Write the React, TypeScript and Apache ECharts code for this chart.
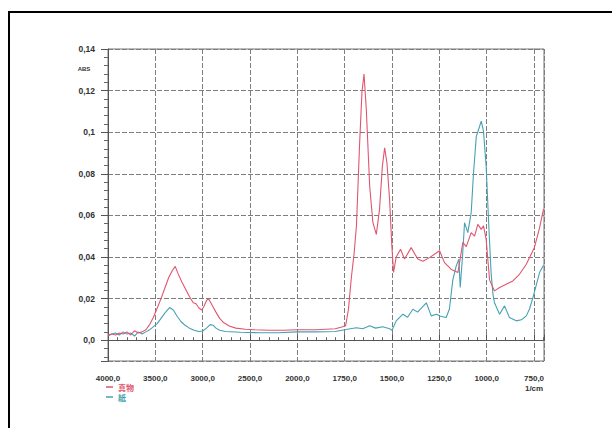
import React, { useEffect, useRef } from "react";
import * as echarts from "echarts";

// Wavenumber tick labels (cm-1), one per major gridline; the scale doubles below 2000.
const xTickLabels = ["4000,0", "3500,0", "3000,0", "2500,0", "2000,0", "1750,0", "1500,0", "1250,0", "1000,0", "750,0"];

// 真物 spectrum
const sampleWavenumbers = [
  4000, 3960, 3920, 3880, 3840, 3800, 3760, 3720, 3680, 3640, 3600, 3560, 3520, 3480, 3440, 3400, 3360, 3320,
  3290, 3260, 3220, 3180, 3140, 3100, 3070, 3040, 3010, 2990, 2960, 2940, 2920, 2890, 2860, 2820, 2780, 2720,
  2650, 2550, 2450, 2300, 2150, 2000, 1900, 1800, 1760, 1745, 1730, 1715, 1700, 1688, 1671, 1659, 1648, 1636,
  1618, 1601, 1583, 1566, 1551, 1539, 1527, 1513, 1501, 1492, 1478, 1455, 1434, 1399, 1364, 1337, 1302, 1249,
  1223, 1187, 1152, 1126, 1108, 1082, 1064, 1047, 1029, 1017, 1003, 985, 959, 932, 897, 862, 827, 791, 748, 721, 700,
];
const sampleAbs = [
  0.002, 0.003, 0.0025, 0.0035, 0.003, 0.004, 0.0025, 0.0045, 0.0035, 0.004, 0.005, 0.0075, 0.011, 0.0155, 0.02,
  0.025, 0.03, 0.0335, 0.0355, 0.032, 0.028, 0.0245, 0.021, 0.018, 0.0175, 0.0155, 0.0145, 0.016, 0.019, 0.02,
  0.0185, 0.016, 0.0135, 0.0105, 0.0085, 0.0068, 0.0058, 0.0053, 0.005, 0.0048, 0.0048, 0.005, 0.005, 0.0055,
  0.0065, 0.007, 0.015, 0.03, 0.042, 0.055, 0.095, 0.119, 0.128, 0.111, 0.074, 0.0565, 0.0509, 0.063, 0.0837,
  0.0925, 0.0853, 0.0677, 0.0453, 0.0326, 0.04, 0.0437, 0.039, 0.0445, 0.039, 0.038, 0.0397, 0.043, 0.0373, 0.034,
  0.0325, 0.047, 0.045, 0.0517, 0.05, 0.0557, 0.0533, 0.055, 0.0485, 0.029, 0.0237, 0.0253, 0.0269, 0.0285,
  0.0317, 0.0365, 0.0446, 0.054, 0.063,
];

// 紙 spectrum
const paperWavenumbers = [
  4000, 3960, 3920, 3880, 3840, 3800, 3760, 3720, 3680, 3640, 3600, 3560, 3520, 3480, 3440, 3400, 3350, 3310,
  3270, 3230, 3190, 3140, 3090, 3040, 3000, 2960, 2920, 2890, 2860, 2820, 2760, 2600, 2400, 2200, 2000, 1900,
  1800, 1750, 1720, 1688, 1655, 1618, 1587, 1549, 1513, 1500, 1478, 1443, 1418, 1390, 1365, 1319, 1293, 1265,
  1244, 1214, 1197, 1179, 1161, 1147, 1140, 1128, 1117, 1100, 1082, 1070, 1055, 1043, 1029, 1017, 1003, 989,
  977, 967, 959, 932, 906, 880, 844, 817, 791, 774, 756, 721, 700,
];
const paperAbs = [
  0.0025, 0.003, 0.0035, 0.0025, 0.004, 0.003, 0.0035, 0.002, 0.004, 0.003, 0.004, 0.005, 0.0065, 0.008, 0.0105,
  0.013, 0.0157, 0.0145, 0.0115, 0.009, 0.0073, 0.0058, 0.0048, 0.0042, 0.0044, 0.0058, 0.0075, 0.0072, 0.0058,
  0.0048, 0.0042, 0.0038, 0.0036, 0.0036, 0.004, 0.004, 0.0042, 0.005, 0.0055, 0.006, 0.0055, 0.0069, 0.0058,
  0.0065, 0.0055, 0.0048, 0.0093, 0.0125, 0.011, 0.0149, 0.0135, 0.018, 0.0117, 0.0125, 0.0115, 0.0109, 0.015,
  0.029, 0.0357, 0.039, 0.0253, 0.04, 0.0565, 0.0517, 0.0613, 0.08, 0.098, 0.1013, 0.1053, 0.1005, 0.0837, 0.055,
  0.0325, 0.022, 0.018, 0.0125, 0.0165, 0.0109, 0.0093, 0.0098, 0.0117, 0.015, 0.0205, 0.0325, 0.036,
];

const SAMPLE_COLOR = "#e0566f";
const PAPER_COLOR = "#45a2b2";

// Map a wavenumber onto the plot's position scale: 500 cm-1 per division
// from 4000 to 2000, then 250 cm-1 per division below 2000.
const toPos = (w: number) => (w >= 2000 ? (4000 - w) / 500 : 4 + (2000 - w) / 250);

const toPairs = (ws: number[], vs: number[]) => ws.map((w, i) => [toPos(w), vs[i]]);

export default function App() {
  const ref = useRef<HTMLDivElement>(null);

  useEffect(() => {
    if (!ref.current) return;
    const chart = echarts.init(ref.current, undefined, { renderer: "svg" });
    const gridLine = { color: "#7d7d7d", width: 1, type: [5, 2] as number[] };
    const labelFont = { fontFamily: "Liberation Sans", fontWeight: "bold" as const, color: "#333", fontSize: 8 };

    chart.setOption({
      animation: false,
      backgroundColor: "#fff",
      grid: {
        left: 108,
        top: 49,
        right: 68,
        bottom: 67,
        show: true,
        borderColor: "#777",
        borderWidth: 1,
        backgroundColor: "transparent",
      },
      xAxis: {
        type: "value",
        min: 0,
        max: 9.21,
        interval: 1,
        axisLine: { show: true, lineStyle: { color: "#555", width: 1 } },
        axisTick: { show: true, inside: true, length: 6, lineStyle: { color: "#555" } },
        minorTick: { show: true, splitNumber: 5, length: 3, lineStyle: { color: "#666" } },
        splitLine: { show: true, lineStyle: gridLine },
        axisLabel: {
          ...labelFont,
          margin: 12,
          lineHeight: 10,
          showMaxLabel: false,
          formatter: (v: number) => {
            const i = Math.round(v);
            if (Math.abs(v - i) > 1e-6 || i < 0 || i >= xTickLabels.length) return "";
            return i === xTickLabels.length - 1 ? `${xTickLabels[i]}\n1/cm` : xTickLabels[i];
          },
        },
      },
      yAxis: {
        type: "value",
        min: -0.01,
        max: 0.14,
        splitNumber: 8,
        axisLine: { show: true, lineStyle: { color: "#555", width: 1 } },
        axisTick: { show: true, length: 7, lineStyle: { color: "#555" } },
        minorTick: { show: true, splitNumber: 5, length: 4, lineStyle: { color: "#666" } },
        splitLine: { show: true, lineStyle: gridLine },
        axisLabel: {
          ...labelFont,
          fontSize: 8.5,
          margin: 13,
          formatter: (v: number) => {
            if (v < -1e-9) return "";
            const s = String(Math.round(v * 100) / 100);
            const t = s.includes(".") ? s : s + ".0";
            return t.replace(".", ",");
          },
        },
      },
      legend: {
        orient: "vertical",
        left: 106,
        top: 383,
        itemWidth: 7,
        itemHeight: 1.5,
        itemGap: 2,
        padding: 0,
        icon: "rect",
        textStyle: { fontFamily: "Noto Sans CJK JP", fontWeight: "bold", fontSize: 8, lineHeight: 8 },
        data: [
          { name: "真物", textStyle: { color: SAMPLE_COLOR } },
          { name: "紙", textStyle: { color: PAPER_COLOR } },
        ],
      },
      graphic: [
        {
          type: "rect",
          shape: { x: 9, y: 12, width: 700, height: 500 },
          style: { fill: "none", stroke: "#000", lineWidth: 2 },
          silent: true,
        },
        {
          type: "text",
          x: 84,
          y: 69,
          style: {
            text: "ABS",
            fontFamily: "Liberation Sans",
            fontWeight: "bold",
            fontSize: 6,
            fill: "#333",
            align: "center",
            verticalAlign: "middle",
          },
        },
      ],
      series: [
        {
          name: "紙",
          type: "line",
          showSymbol: false,
          data: toPairs(paperWavenumbers, paperAbs),
          lineStyle: { color: PAPER_COLOR, width: 1.1 },
          itemStyle: { color: PAPER_COLOR },
        },
        {
          name: "真物",
          type: "line",
          showSymbol: false,
          data: toPairs(sampleWavenumbers, sampleAbs),
          lineStyle: { color: SAMPLE_COLOR, width: 1.1 },
          itemStyle: { color: SAMPLE_COLOR },
        },
      ],
    });

    return () => chart.dispose();
  }, []);

  return <div ref={ref} style={{ position: "fixed", left: 0, top: 0, width: 612, height: 428 }} />;
}
